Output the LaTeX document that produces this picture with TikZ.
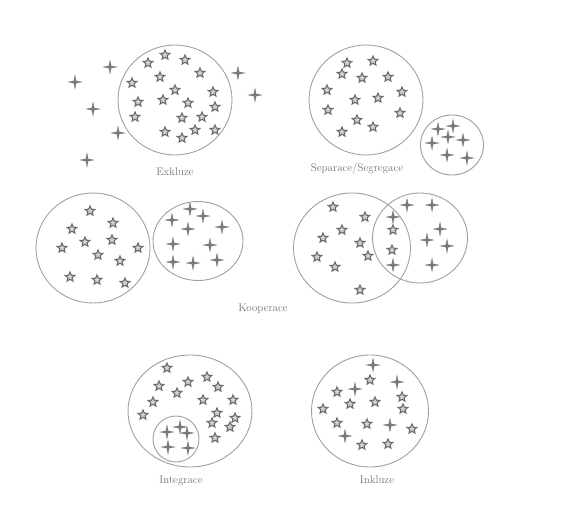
\documentclass[tikz,border=0pt]{standalone}
\usetikzlibrary{shapes.geometric,positioning}
\begin{document}
\begin{tikzpicture}[x=1pt,y=-1pt,
   every node/.style={font=\fontsize{11}{13}\selectfont},
   group/.style={draw=gray!75,line width=0.9pt,ellipse,inner sep=0pt},
   fivestar/.style={star,star points=5,star point ratio=2.2,minimum size=10pt,
     inner sep=0pt,draw=gray!85!black,line width=1.1pt,fill=gray!35},
   fourstar/.style={star,star points=4,star point ratio=4.2,minimum size=13pt,
     inner sep=0pt,draw=gray!95!black,fill=gray!95!black,line width=0.4pt},
   lbl/.style={text=gray!90!black}]
  \useasboundingbox (0,0) rectangle (561,519);
  \node[group,minimum width=114pt,minimum height=110pt] (exk) at (175,100) {};
  \node[lbl,below=9pt of exk] (exklbl) {Exkluze};
  \foreach \x/\y [count=\i] in {165/55,185/60,148/63,200/73,160/77,132/83,175/90,
     213/92,138/102,163/100,188/103,215/107,135/117,182/118,202/117,165/132,
     195/130,215/130,182/138}
    \node[fivestar] (exks\i) at (\x,\y) {};
  \foreach \x/\y [count=\i] in {75/82,110/67,93/109,118/133,238/73,255/95,87/160}
    \node[fourstar] (exkc\i) at (\x,\y) {};
  \node[group,minimum width=114pt,minimum height=110pt] (sepa) at (366,100) {};
  \node[group,minimum width=63pt,minimum height=60pt] (sepb) at (452,145) {};
  \node[lbl,below=4pt of sepa,xshift=-9pt] (seplbl) {Separace/Segregace};
  \foreach \x/\y [count=\i] in {347/63,373/61,342/74,362/78,388/77,327/90,402/92,
     355/100,378/98,328/110,400/113,357/120,373/127,342/132}
    \node[fivestar] (seps\i) at (\x,\y) {};
  \foreach \x/\y [count=\i] in {438/129,453/126,448/137,463/140,432/143,447/155,467/158}
    \node[fourstar] (sepc\i) at (\x,\y) {};
  \node[group,minimum width=114pt,minimum height=110pt] (kooa) at (93,248) {};
  \node[group,minimum width=90pt,minimum height=79pt] (koob) at (198,241) {};
  \foreach \x/\y [count=\i] in {90/211,113/223,72/229,85/242,112/240,62/248,98/255,
     138/248,120/261,70/277,97/280,125/283}
    \node[fivestar] (kooas\i) at (\x,\y) {};
  \foreach \x/\y [count=\i] in {190/209,203/216,172/220,188/229,222/227,173/244,
     210/245,173/262,193/263,217/260}
    \node[fourstar] (koobc\i) at (\x,\y) {};
  \node[group,minimum width=117pt,minimum height=110pt] (kooc) at (352,248) {};
  \node[group,minimum width=95pt,minimum height=90pt] (kood) at (420,238) {};
  \foreach \x/\y [count=\i] in {333/207,365/217,342/230,323/238,360/243,368/256,
     317/257,335/267,360/290,393/230,392/250}
    \node[fivestar] (koocs\i) at (\x,\y) {};
  \foreach \x/\y [count=\i] in {407/205,432/205,393/217,440/229,427/240,447/246,
     432/265,393/265}
    \node[fourstar] (koodc\i) at (\x,\y) {};
  \node[lbl] (koolbl) at (263,309) {Kooperace};
  \node[group,minimum width=124pt,minimum height=112pt] (inta) at (190,411) {};
  \node[group,minimum width=46pt,minimum height=46pt] (intb) at (176,439) {};
  \node[lbl,below=5pt of inta,xshift=-9pt] (intlbl) {Integrace};
  \foreach \x/\y [count=\i] in {167/368,207/377,188/382,159/386,218/387,177/393,
     203/400,233/400,153/402,143/415,217/413,235/418,212/423,230/427,215/438}
    \node[fivestar] (ints\i) at (\x,\y) {};
  \foreach \x/\y [count=\i] in {180/427,167/432,187/433,168/447,188/448}
    \node[fourstar] (intc\i) at (\x,\y) {};
  \node[group,minimum width=117pt,minimum height=112pt] (ink) at (370,411) {};
  \node[lbl,below=5pt of ink,xshift=7pt] (inklbl) {Inkluze};
  \foreach \x/\y [count=\i] in {370/380,337/392,402/397,350/404,375/402,403/409,
     323/409,337/423,367/424,412/429,362/445,388/444}
    \node[fivestar] (inks\i) at (\x,\y) {};
  \foreach \x/\y [count=\i] in {373/365,397/382,355/389,390/425,345/436}
    \node[fourstar] (inkc\i) at (\x,\y) {};
\end{tikzpicture}
\end{document}
